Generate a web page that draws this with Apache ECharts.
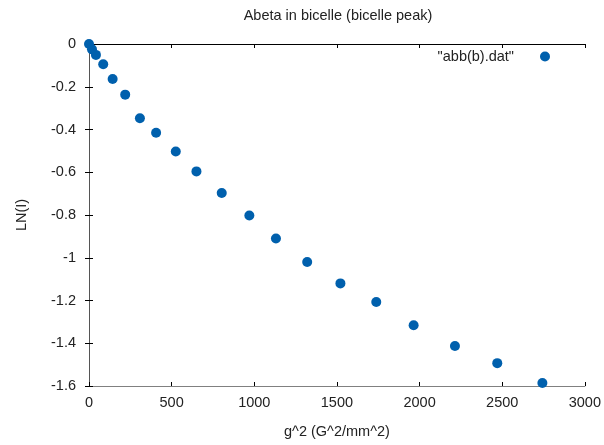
<!DOCTYPE html>
<html>
<head>
<meta charset="utf-8">
<script src="https://cdn.jsdelivr.net/npm/echarts@6/dist/echarts.min.js"></script>
<style>html,body{margin:0;padding:0;background:#fff;}#c{width:604px;height:445px;}</style>
</head>
<body>
<div id="c"></div>
<script>
var gSquared = [0, 18, 42, 86, 143, 219, 308, 406, 525, 650, 803, 970, 1131, 1320, 1521, 1738, 1964, 2214, 2470, 2743];
var lnI = [0, -0.025, -0.051, -0.095, -0.164, -0.237, -0.347, -0.415, -0.503, -0.596, -0.697, -0.802, -0.910, -1.020, -1.120, -1.207, -1.316, -1.413, -1.493, -1.586];
var seriesName = '"abb(b).dat"';
var titleText = 'Abeta in bicelle (bicelle peak)';
var xName = 'g^2 (G^2/mm^2)';
var yName = 'LN(I)';

var pts = gSquared.map(function (x, i) { return [x, lnI[i]]; });
var font = 'Liberation Sans, Arial, sans-serif';
var fs = 14.5;
var txt = '#222';
var chart = echarts.init(document.getElementById('c'));
chart.setOption({
  animation: false,
  backgroundColor: '#fff',
  title: {
    text: titleText, left: 333, top: 3, textAlign: 'center',
    textStyle: { fontFamily: font, fontSize: fs, fontWeight: 'normal', color: txt }
  },
  legend: {
    data: [{ name: seriesName, icon: 'circle' }],
    right: 49, top: 44, align: 'right', itemWidth: 10, itemHeight: 10,
    textStyle: { fontFamily: font, fontSize: fs, color: txt, padding: [0, 21, 0, 0] }
  },
  grid: { left: 89, right: 18, top: 44, bottom: 59, containLabel: false },
  xAxis: [{
    type: 'value', min: 0, max: 3000, interval: 500, position: 'bottom',
    name: xName, nameLocation: 'middle', nameGap: 38,
    nameTextStyle: { fontFamily: font, fontSize: fs, color: txt },
    axisLine: { onZero: false, lineStyle: { color: '#808080', width: 1 } },
    axisTick: { inside: true, length: 4, lineStyle: { color: '#000' } },
    axisLabel: { fontFamily: font, fontSize: fs, color: txt, margin: 9,
      formatter: function (v) { return String(v); } },
    splitLine: { show: false }
  }, {
    type: 'value', min: 0, max: 3000, interval: 500, position: 'top',
    axisLine: { lineStyle: { color: '#000', width: 1 } },
    axisTick: { inside: true, length: 4, lineStyle: { color: '#000' } },
    axisLabel: { show: false }, splitLine: { show: false }
  }],
  yAxis: [{
    type: 'value', min: -1.6, max: 0, interval: 0.2, position: 'left',
    name: yName, nameLocation: 'middle', nameGap: 60, nameRotate: 90,
    nameTextStyle: { fontFamily: font, fontSize: fs, color: txt },
    axisLine: { onZero: false, lineStyle: { color: '#808080', width: 1 } },
    axisTick: { inside: true, length: 4, lineStyle: { color: '#000' } },
    axisLabel: { fontFamily: font, fontSize: fs, color: txt, margin: 13,
      formatter: function (v) { return String(Math.round(v * 10) / 10); } },
    splitLine: { show: false }
  }, {
    type: 'value', min: -1.6, max: 0, interval: 0.2, position: 'right',
    axisLine: { lineStyle: { color: '#555', width: 1 } },
    axisTick: { inside: true, length: 4, lineStyle: { color: '#000' } },
    axisLabel: { show: false }, splitLine: { show: false }
  }],
  series: [{
    name: seriesName, type: 'scatter', data: pts, xAxisIndex: 0, yAxisIndex: 0,
    symbol: 'circle', symbolSize: 10, itemStyle: { color: '#0060ad', opacity: 1 }
  }]
});
</script>
</body>
</html>
